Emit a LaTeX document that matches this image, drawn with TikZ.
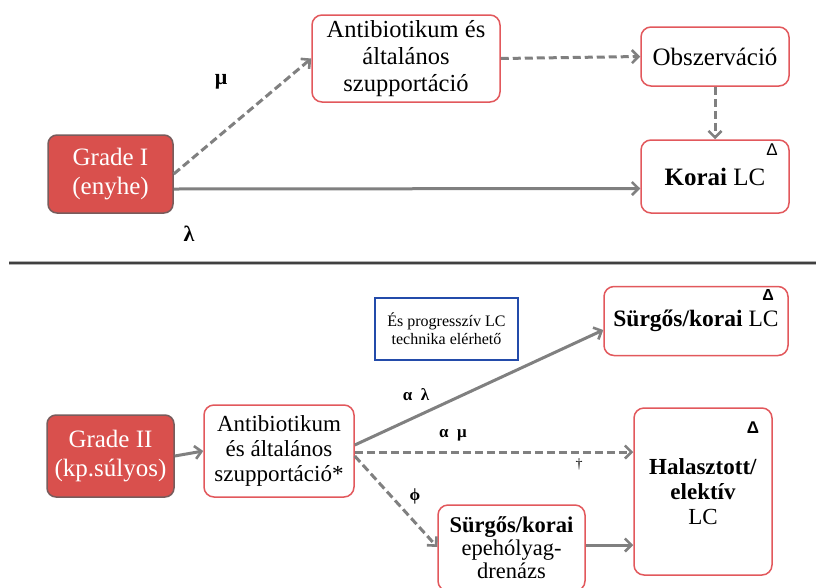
\documentclass[tikz,border=0pt]{standalone}
\usepackage{fontspec}
\setmainfont{Liberation Serif}
\newfontfamily\symfont{Liberation Sans}
\usetikzlibrary{arrows.meta}
\definecolor{gradered}{RGB}{217,80,77}
\definecolor{gradeedge}{RGB}{120,92,92}
\definecolor{boxred}{RGB}{226,88,92}
\definecolor{arrowgray}{RGB}{128,128,128}
\definecolor{noteblue}{RGB}{35,75,170}
\begin{document}
\begin{tikzpicture}[x=1pt, y=-1pt,
    grade_style/.style={rectangle, rounded corners=9pt, fill=gradered, draw=gradeedge, line width=1.5pt, text=white, align=center, inner sep=0pt, font=\fontsize{25}{29}\selectfont},
    box_style/.style={rectangle, rounded corners=10pt, draw=boxred, fill=white, line width=1.5pt, align=center, inner sep=0pt},
    note_style/.style={rectangle, draw=noteblue, line width=1.8pt, align=center, inner sep=0pt, font=\fontsize{16}{18}\selectfont},
    arrow_style/.style={draw=arrowgray, line width=3pt, -{Straight Barb[length=6.5pt, width=13pt, line width=2.6pt]}},
    dash_style/.style={arrow_style, dash pattern=on 8pt off 4pt},
    lbl_style/.style={inner sep=0pt, font=\bfseries\fontsize{17}{18}\selectfont},
    tri_style/.style={inner sep=0pt, font=\symfont\fontsize{17}{17}\selectfont}
]
\useasboundingbox (0,0) rectangle (816,587);
% Grade I
\node[grade_style, minimum width=125pt, minimum height=78pt] (g1) at (110.5,174) {Grade I\\(enyhe)};
\node[box_style, minimum width=188pt, minimum height=87pt, font=\fontsize{24.5}{27}\selectfont] (ab1) at (406,58.5) {Antibiotikum és\\általános\\szupportáció};
\node[box_style, minimum width=148pt, minimum height=59pt, font=\fontsize{25}{27}\selectfont] (obs) at (715,56.5) {Obszerváció};
\node[box_style, minimum width=148pt, minimum height=73pt, font=\fontsize{25}{27}\selectfont] (korai) at (715,176.5) {\textbf{Korai} LC};
\node[tri_style] (t1) at (772,150) {Δ};
\node[lbl_style, font=\bfseries\fontsize{22}{24}\selectfont] (mu1) at (221,82) {μ};
\node[lbl_style, font=\bfseries\fontsize{22}{24}\selectfont] (la1) at (189,234) {λ};
\draw[dash_style] (g1.east) -- (ab1.west);
\draw[arrow_style] ([yshift=-15pt]g1.east) -- ([yshift=-12pt]korai.west);
\draw[dash_style] (ab1.east) -- (obs.west);
\draw[dash_style] (obs.south) -- (korai.north);
% separator
\draw[line width=3.5pt, gray!60] (9,263) -- (816,263);
\draw[line width=1.8pt, black!75] (9,263) -- (816,263);
% Grade II
\node[grade_style, minimum width=127pt, minimum height=82pt] (g2) at (110.5,456) {Grade II\\(kp.súlyos)};
\node[box_style, minimum width=150pt, minimum height=92pt, font=\fontsize{23}{25}\selectfont] (ab2) at (279,451) {Antibiotikum\\és általános\\szupportáció*};
\node[note_style, minimum width=143pt, minimum height=62pt] (note) at (446.5,329) {És progresszív LC\\technika elérhető};
\node[box_style, minimum width=184pt, minimum height=69pt, font=\fontsize{23.5}{26}\selectfont] (lc) at (696,321) {\textbf{Sürgős/korai} LC};
\node[box_style, minimum width=138pt, minimum height=167pt, font=\fontsize{23}{25}\selectfont] (hal) at (703,491.5) {\textbf{Halasztott/}\\\textbf{elektív}\\LC};
\node[box_style, minimum width=147pt, minimum height=86pt, font=\fontsize{22.5}{23}\selectfont] (dren) at (511.5,548) {\textbf{Sürgős/korai}\\epehólyag-\\drenázs};
\node[tri_style, font=\symfont\bfseries\fontsize{16}{16}\selectfont] (t2) at (768,295) {Δ};
\node[tri_style, font=\symfont\bfseries\fontsize{17}{17}\selectfont] (t3) at (753,428) {Δ};
\node[lbl_style] (al) at (416,395) {α~~λ};
\node[lbl_style] (am) at (453,435) {α~~μ};
\node[lbl_style] (phi) at (415,496) {ϕ};
\node[inner sep=0pt, font=\fontsize{14}{14}\selectfont] (dag) at (579,464) {†};
\draw[arrow_style] (g2.east) -- (ab2.west);
\draw[arrow_style] ([yshift=6pt]ab2.east) -- ([yshift=-9pt]lc.west);
\draw[dash_style] ([yshift=-1pt]ab2.east) -- ([yshift=39.5pt]hal.west);
\draw[dash_style] ([yshift=-5pt]ab2.east) -- ([yshift=1pt]dren.west);
\draw[arrow_style] ([yshift=3pt]dren.east) -- ([yshift=-53.5pt]hal.west);
\end{tikzpicture}
\end{document}
